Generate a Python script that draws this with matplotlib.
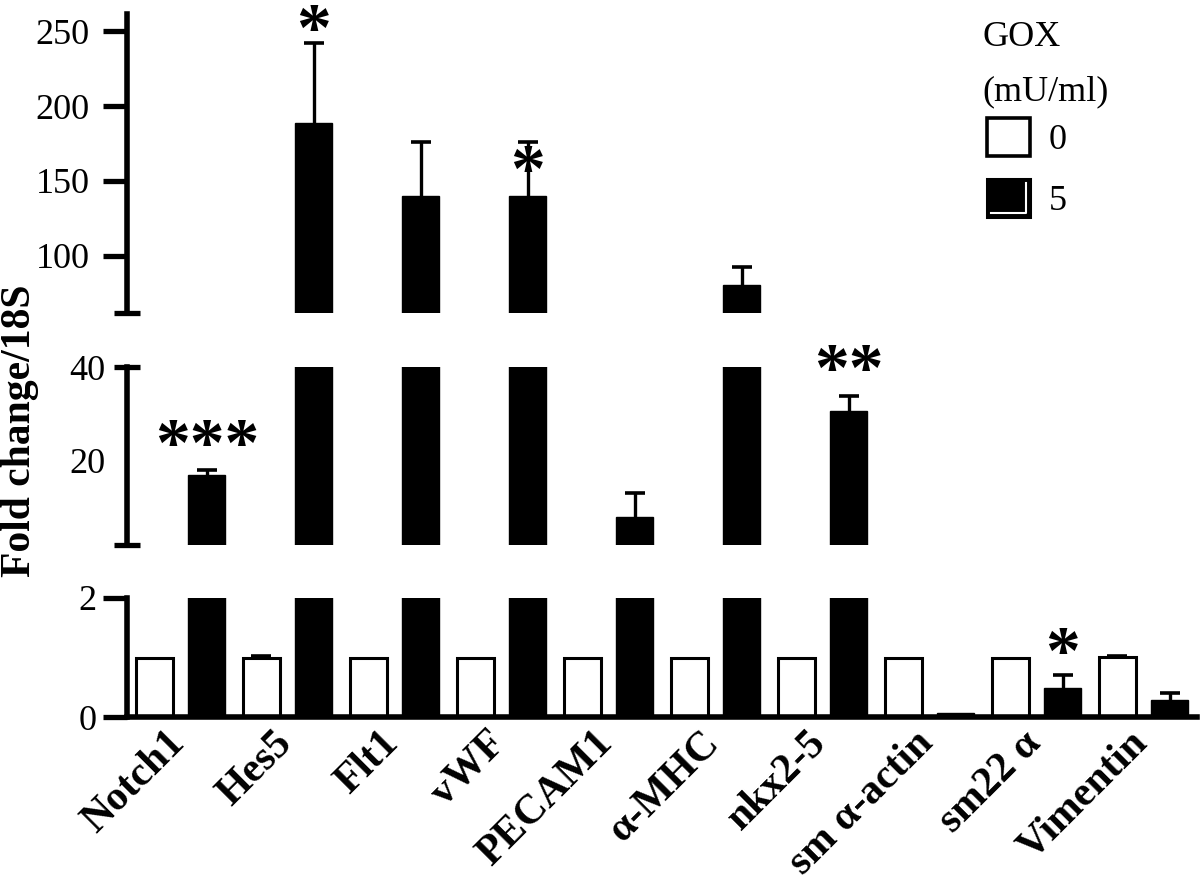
import numpy as np
import matplotlib
matplotlib.use("Agg")
import matplotlib.pyplot as plt
from matplotlib.patches import Rectangle, Patch
from matplotlib.lines import Line2D
from matplotlib.legend_handler import HandlerBase
from matplotlib.transforms import ScaledTranslation

plt.rcParams['font.family'] = ['Liberation Serif', 'DejaVu Serif']

# data
genes = ['Notch1', 'Hes5', 'Flt1', 'vWF', 'PECAM1', 'α-MHC', 'nkx2-5',
         'sm α-actin', 'sm22 α', 'Vimentin']
ctrl = [1.0, 1.0, 1.0, 1.0, 1.0, 0.99, 1.0, 1.0, 1.0, 1.01]
ctrl_err = [0, 0.02, 0, 0, 0, 0, 0, 0, 0, 0.01]
gox = [17.0, 189.0, 140.0, 140.0, 8.0, 80.0, 30.6, 0.06, 0.49, 0.28]
gox_err = [1.0, 53.0, 36.0, 36.0, 5.0, 12.0, 3.2, 0.0, 0.22, 0.13]
stars = ['***', '*', '', '*', '', '', '**', '', '*', '']
star_y = [25.5, 257.5, np.nan, 163.0, np.nan, np.nan, 41.5, np.nan, 1.24, np.nan]

x = np.arange(len(genes))
off = 0.2475
bw = 0.346


def up_errors(ax, xs, vals, errs, lw):
    xs, vals, errs = np.asarray(xs), np.asarray(vals), np.asarray(errs)
    m = errs > 0
    ax.vlines(xs[m], vals[m], vals[m] + errs[m], color='black', linewidth=lw)
    ax.plot(xs[m], vals[m] + errs[m], ls='none', marker='_', ms=14, mew=2.6,
            color='black')


fig = plt.figure(figsize=(12, 8.83), dpi=100)
L, W = 127 / 1200, 1070 / 1200
ax_top = fig.add_axes([L, 570 / 883, W, 299 / 883])
ax_mid = fig.add_axes([L, 338 / 883, W, 178 / 883])
ax_bot = fig.add_axes([L, 166 / 883, W, 119 / 883])
panels = [ax_top, ax_mid, ax_bot]

ax_top.set_ylim(61.5, 261.7)
ax_mid.set_ylim(2, 40)
ax_bot.set_ylim(0, 2)

for ax in panels:
    ax.bar(x - off, ctrl, bw, color='white', edgecolor='black', linewidth=2.2)
    ax.bar(x + off, gox, bw, color='black', edgecolor='black', linewidth=1)
    up_errors(ax, x + off, gox, gox_err, 2.4)
    up_errors(ax, x - off, ctrl, ctrl_err, 2.0)
    ax.set_xlim(-0.5, 9.5)
    for s in ['top', 'right', 'bottom']:
        ax.spines[s].set_visible(False)
    ax.spines['left'].set_linewidth(4)
    ax.tick_params(axis='y', labelsize=26, width=3.8, color='black')
    ax.patch.set_alpha(0)

ax_bot.spines['bottom'].set_visible(True)
ax_bot.spines['bottom'].set_linewidth(4)

# top panel ticks
ax_top.set_yticks([100, 150, 200, 250])
ax_top.tick_params(axis='y', direction='out', length=17.3, pad=9.4)
ax_top.set_yticks([61.5], minor=True)
ax_top.tick_params(axis='y', which='minor', direction='inout', length=19.4, width=3.8)
ax_top.set_xticks([])

# middle panel ticks
ax_mid.set_yticks([2, 20, 40])
ax_mid.set_yticklabels(['', '20', '40'])
ax_mid.tick_params(axis='y', direction='inout', length=19.4, pad=6)
ax_mid.yaxis.get_major_ticks()[1].tick1line.set_visible(False)
ax_mid.set_xticks([])

# bottom panel ticks
ax_bot.set_yticks([0, 2])
ax_bot.tick_params(axis='y', direction='out', length=17.3, pad=4.3)
ax_bot.set_yticks([2], minor=True)
ax_bot.tick_params(axis='y', which='minor', direction='in', length=9.4, width=3.8)
ax_bot.set_xticks(x)
ax_bot.set_xticklabels(genes, rotation=45, ha='right', rotation_mode='anchor',
                       fontsize=30, fontweight='bold')
ax_bot.tick_params(axis='x', length=0, pad=5)
shift = ScaledTranslation(-0.15, 0, fig.dpi_scale_trans)
for lab in ax_bot.get_xticklabels():
    lab.set_transform(lab.get_transform() + shift)

# significance stars
for i in range(len(x)):
    if not stars[i]:
        continue
    y = star_y[i]
    ax = ax_bot if y <= 2.5 else (ax_mid if y <= 50 else ax_top)
    ax.annotate(stars[i], (x[i] + off, y), xytext=(0, -10), textcoords='offset points',
                ha='center', va='center', fontsize=50, fontweight='bold',
                annotation_clip=False)

fig.text(0.0167, 0.512, 'Fold change/18S', rotation=90, ha='center', va='center',
         fontsize=30, fontweight='bold')

# legend
fig.text(982 / 1200, 1 - 38 / 883, 'GOX', ha='left', va='center', fontsize=26)
fig.text(982 / 1200, 1 - 92 / 883, '(mU/ml)', ha='left', va='center', fontsize=26)


class FilledBox(HandlerBase):
    def create_artists(self, legend, orig_handle, xdescent, ydescent, width, height,
                       fontsize, trans):
        x0, y0 = -xdescent, -ydescent
        box = Rectangle((x0, y0), width, height, facecolor='black', edgecolor='black',
                        linewidth=2.2, transform=trans)
        edge = Line2D([x0 + 3, x0 + width - 3, x0 + width - 3],
                      [y0 + 3, y0 + 3, y0 + height - 3], color='white',
                      linewidth=1.5, transform=trans)
        return [box, edge]


h0 = Patch(facecolor='white', edgecolor='black', linewidth=2.6)
h5 = Patch(facecolor='black', edgecolor='black')
leg = fig.legend([h0, h5], ['0', '5'], loc='upper left',
                 bbox_to_anchor=(987 / 1200, 1 - 118 / 883), frameon=False,
                 borderpad=0, borderaxespad=0, fontsize=26,
                 handlelength=1.2, handleheight=1.25, handletextpad=0.5,
                 labelspacing=0.6, handler_map={h5: FilledBox()})

fig.savefig('out.png', dpi=100)
